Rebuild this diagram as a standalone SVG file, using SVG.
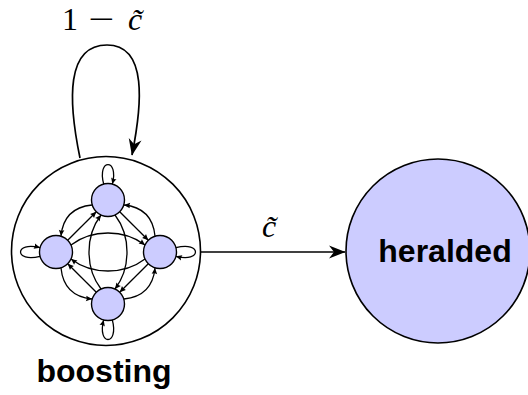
<svg xmlns="http://www.w3.org/2000/svg" width="528" height="395" viewBox="0 0 528 395">
<defs>
<style>
.big{fill:#fff;stroke:#000;stroke-width:1.6}
.her{fill:#ccccff;stroke:#000;stroke-width:1.6}
.st{fill:#ccccff;stroke:#000;stroke-width:1.4}
.e{fill:none;stroke:#000;stroke-width:1.3;marker-end:url(#sm)}
.m{fill:none;stroke:#000;stroke-width:1.7;marker-end:url(#big)}
.lbl{font-family:"Liberation Sans",Arial,sans-serif;font-weight:bold;font-size:32px;fill:#000}
.math{font-family:"Liberation Serif","DejaVu Serif",serif;font-size:32px;fill:#000}
</style>
<marker id="sm" markerUnits="userSpaceOnUse" markerWidth="10" markerHeight="10" viewBox="-6 -4 8 8" refX="0" refY="0" orient="auto">
<path d="M0,0 L-4.8,-2.2 Q-3.6,0 -4.8,2.2 Z" fill="#000"/>
</marker>
<marker id="big" markerUnits="userSpaceOnUse" markerWidth="24" markerHeight="20" viewBox="-20 -10 22 20" refX="0" refY="0" orient="auto">
<path d="M0.5,0 L-16,-6.5 L-11,0 L-16,6.5 Z" fill="#000"/>
</marker>
</defs>

<g id="boosting">
<circle class="big" cx="106" cy="251" r="94.5"/>
<text class="lbl" x="104" y="382" text-anchor="middle">boosting</text>
</g>

<g id="heralded">
<circle class="her" cx="438" cy="251" r="92"/>
<text class="lbl" x="445" y="262" text-anchor="middle">heralded</text>
</g>

<g id="inner-connectors">
<path class="e" d="M103.7,184.1 C96.7,158 119.3,158 112.3,184.1"/>
<path class="e" d="M40.1,256.3 C14,263.3 14,240.7 40.1,247.7"/>
<path class="e" d="M175.9,247.7 C202,240.7 202,263.3 175.9,256.3"/>
<path class="e" d="M112.3,319.9 C119.3,346 96.7,346 103.7,319.9"/>
<path class="e" d="M67.7,240.3 L96.3,211.7"/>
<path class="e" d="M119.7,211.7 L148.3,240.3"/>
<path class="e" d="M148.3,263.7 L119.7,292.3"/>
<path class="e" d="M96.3,292.3 L67.7,263.7"/>
<path class="e" d="M92,205 Q63.8,207.8 61,236"/>
<path class="e" d="M61,268 Q63.8,296.2 92,299"/>
<path class="e" d="M124,299 Q152.2,296.2 155,268"/>
<path class="e" d="M155,236 Q152.2,207.8 124,205"/>
<path class="e" d="M71,245 C92,229 124,229 145,245"/>
<path class="e" d="M145,259 C124,275 92,275 71,259"/>
<path class="e" d="M101,289 C85,268 85,236 101,215"/>
<path class="e" d="M115,215 C131,236 131,268 115,289"/>
</g>

<g id="n-top"><circle class="st" cx="108" cy="200" r="16.5"/></g>
<g id="n-left"><circle class="st" cx="56" cy="252" r="16.5"/></g>
<g id="n-right"><circle class="st" cx="160" cy="252" r="16.5"/></g>
<g id="n-bottom"><circle class="st" cx="108" cy="304" r="16.5"/></g>

<g id="connectors">
<path class="m" d="M80,158 C68,100 66,45 107,45 C148,45 142,105 132,155"/>
<path class="m" d="M201,252 L345,252"/>
</g>

<g id="labels">
<text class="math" y="30"><tspan x="62">1</tspan><tspan x="88" textLength="26" lengthAdjust="spacingAndGlyphs">−</tspan><tspan x="128" font-style="italic">c&#x303;</tspan></text>
<text class="math" x="262" y="237" font-style="italic">c&#x303;</text>
</g>
</svg>
